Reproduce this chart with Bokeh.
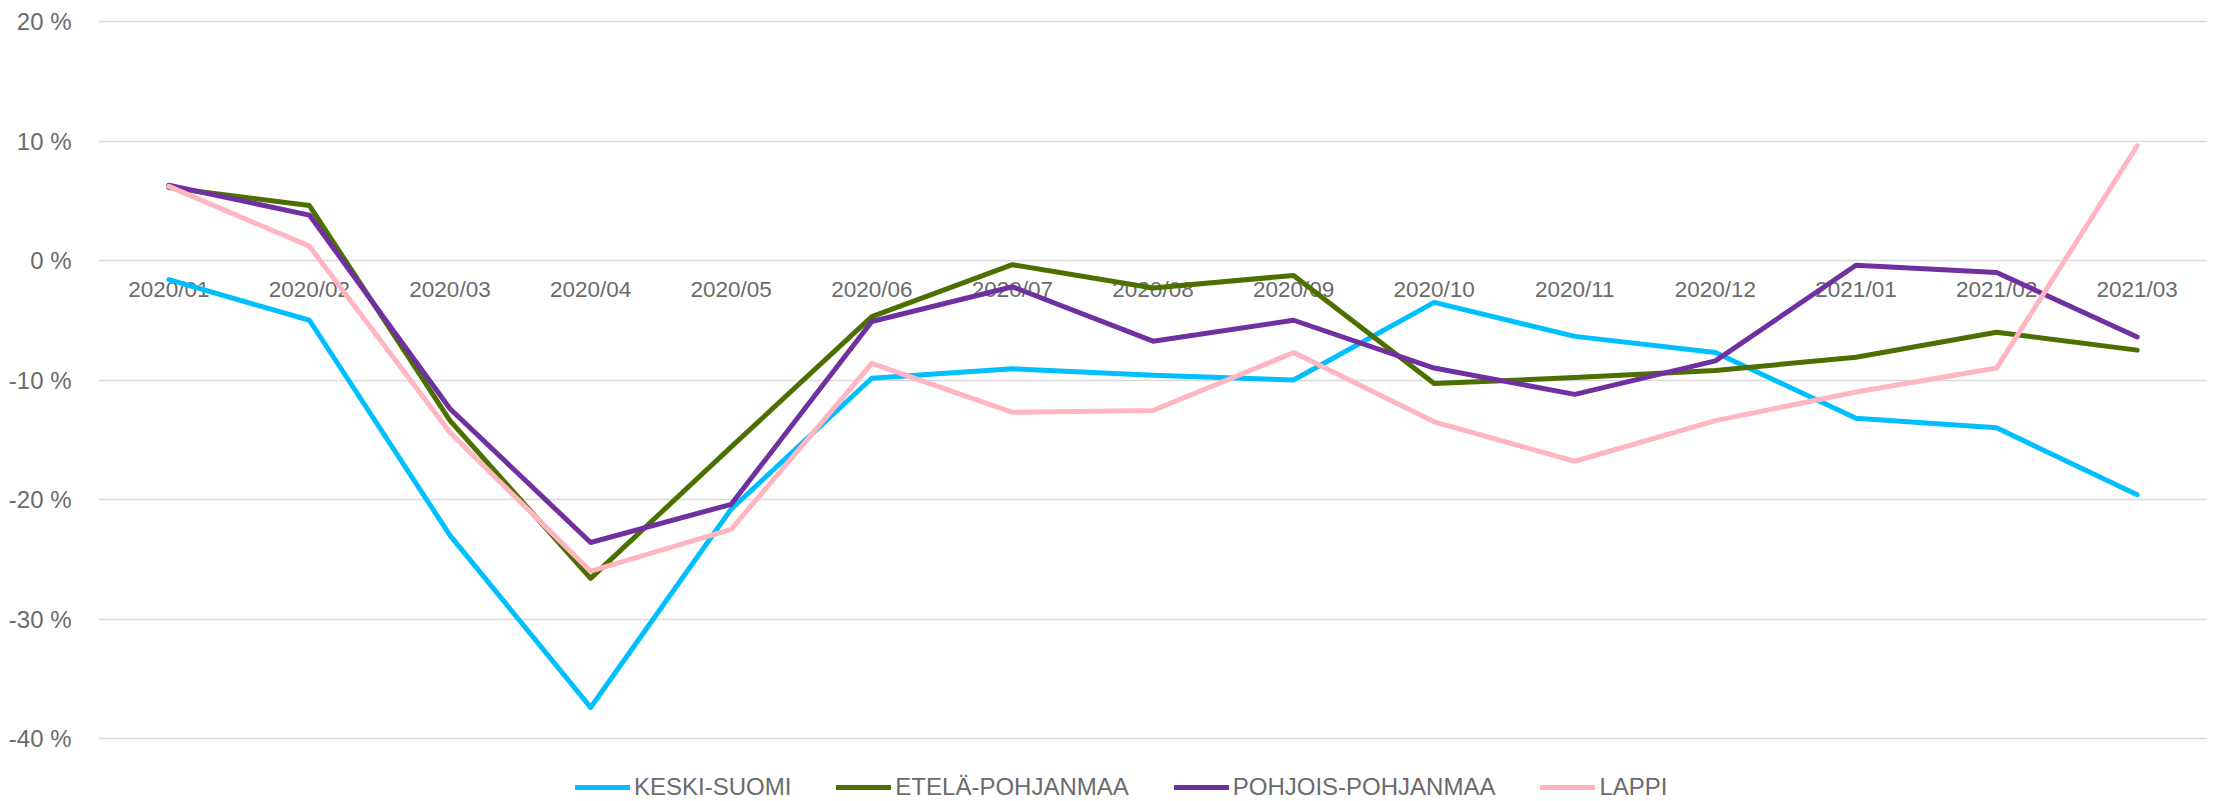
from bokeh.plotting import figure
from bokeh.models import (FactorRange, Range1d, FixedTicker, CustomJSTickFormatter,
                          Legend, LegendItem)
from bokeh.core.properties import value
from bokeh.embed import file_html
from bokeh.resources import INLINE

categories = ["2020/01", "2020/02", "2020/03", "2020/04", "2020/05", "2020/06", "2020/07",
              "2020/08", "2020/09", "2020/10", "2020/11", "2020/12", "2021/01", "2021/02", "2021/03"]

keski_suomi = [-1.6, -5.0, -23.0, -37.4, -20.8, -9.85, -9.06, -9.6, -10.0, -3.5, -6.35, -7.7, -13.2, -14.0, -19.6]
etela_pohjanmaa = [6.1, 4.6, -13.4, -26.6, -15.6, -4.7, -0.35, -2.3, -1.25, -10.3, -9.8, -9.2, -8.1, -6.0, -7.5]
pohjois_pohjanmaa = [6.3, 3.8, -12.4, -23.6, -20.4, -5.1, -2.2, -6.75, -5.0, -9.0, -11.2, -8.4, -0.4, -1.0, -6.4]
lappi = [6.2, 1.2, -14.4, -26.0, -22.5, -8.6, -12.7, -12.55, -7.7, -13.5, -16.8, -13.4, -11.0, -9.0, 9.6]

series_names = ["KESKI-SUOMI", "ETELÄ-POHJANMAA", "POHJOIS-POHJANMAA", "LAPPI"]
series_values = [keski_suomi, etela_pohjanmaa, pohjois_pohjanmaa, lappi]
series_colors = ["#00BFFF", "#4B7000", "#7030A0", "#FFB6C1"]

y_ticks = [-40, -30, -20, -10, 0, 10, 20]

FONT = "Liberation Sans"
TEXT_COLOR = "#6b6b6b"

p = figure(x_range=FactorRange(factors=categories, range_padding=0),
           y_range=Range1d(-45.27, 21.757),
           width=2207, height=801, output_backend="svg", toolbar_location=None,
           x_axis_location=None,
           min_border_left=98, min_border_right=0, min_border_top=0, min_border_bottom=0)

p.outline_line_color = None
p.background_fill_color = "white"
p.border_fill_color = "white"

p.yaxis.ticker = FixedTicker(ticks=y_ticks)
p.yaxis.formatter = CustomJSTickFormatter(code="return tick.toFixed(0) + ' %';")
p.yaxis.axis_line_color = None
p.yaxis.major_tick_line_color = None
p.yaxis.minor_tick_line_color = None
p.yaxis.major_label_standoff = 21
p.yaxis.major_label_text_font = FONT
p.yaxis.major_label_text_font_size = "24px"
p.yaxis.major_label_text_color = TEXT_COLOR

p.ygrid.ticker = FixedTicker(ticks=y_ticks)
p.ygrid.grid_line_color = "#d9d9d9"
p.ygrid.grid_line_width = 1.5
p.xgrid.grid_line_color = None

# category labels sitting under the 0 % line
p.text(x=categories, y=[0] * len(categories), text=categories,
       text_align="center", text_baseline="middle", y_offset=29,
       text_font=value(FONT), text_font_size="22.5px", text_color=TEXT_COLOR)

items = []
for name, vals, col in zip(series_names, series_values, series_colors):
    r = p.line(categories, vals, line_width=5, line_color=col,
               line_join="round", line_cap="round")
    items.append(LegendItem(label=name, renderers=[r]))

legend = Legend(items=items, orientation="horizontal", location=(477, 0),
                glyph_width=55, glyph_height=20, label_standoff=4, spacing=45,
                padding=0, margin=0, border_line_color=None, background_fill_alpha=0,
                label_text_font=FONT, label_text_font_size="24px",
                label_text_color=TEXT_COLOR)
p.add_layout(legend)

open("out.html", "w").write(file_html(p, INLINE))
